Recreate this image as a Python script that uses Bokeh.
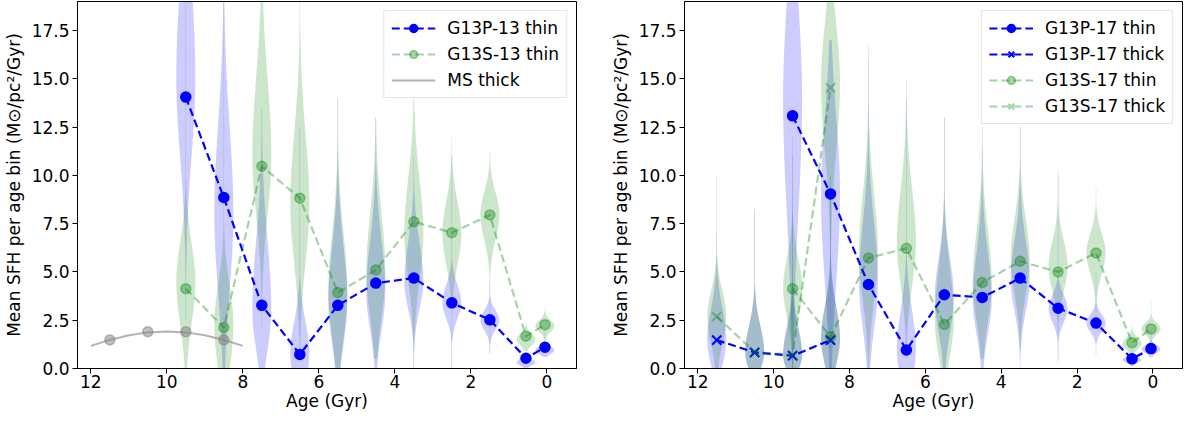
import numpy as np
from bokeh.plotting import figure
from bokeh.layouts import row
from bokeh.models import Range1d, FixedTicker
from bokeh.embed import file_html
from bokeh.resources import INLINE

# ---------------- data ----------------
AGES_ALL = [11.5, 10.5, 9.5, 8.5, 7.5, 6.5, 5.5, 4.5, 3.5, 2.5, 1.5, 0.55, 0.05]
AGES_THIN = AGES_ALL[2:]
AGES_THICK = AGES_ALL[:4]

X_TICKS = [0, 2, 4, 6, 8, 10, 12]
Y_TICKS = [0, 2.5, 5, 7.5, 10, 12.5, 15, 17.5]
Y_TICK_LABELS = ["0.0", "2.5", "5.0", "7.5", "10.0", "12.5", "15.0", "17.5"]

# left panel: mean SFH points
P13_THIN = [14.05, 8.85, 3.27, 0.73, 3.27, 4.42, 4.68, 3.40, 2.52, 0.53, 1.10]
S13_THIN = [4.13, 2.12, 10.47, 8.82, 3.93, 5.10, 7.60, 7.03, 7.95, 1.67, 2.27]
MS_AGES = [11.5, 10.5, 9.5, 8.5]
MS_VALS = [1.48, 1.90, 1.90, 1.48]
MS_CURVE_AGES = [12, 11.5, 11, 10.5, 10, 9.5, 9, 8.5, 8]
MS_CURVE_VALS = [1.17, 1.48, 1.72, 1.87, 1.92, 1.87, 1.72, 1.48, 1.17]

# right panel: mean SFH points
P17_THIN = [13.08, 9.04, 4.35, 0.96, 3.82, 3.68, 4.68, 3.12, 2.35, 0.50, 1.03]
P17_THICK = [1.47, 0.83, 0.66, 1.47]
S17_THIN = [4.13, 1.64, 5.72, 6.22, 2.28, 4.45, 5.55, 5.00, 5.98, 1.33, 2.05]
S17_THICK = [2.69, 0.85, 0.70, 14.53]

# violin outlines: mode, spread below, spread above, lowest, highest value
V_P13_THIN_MODE = [15.0, 8.0, 3.0, 0.8, 3.5, 4.0, 4.5, 3.4, 2.5, 0.30, 0.95]
V_P13_THIN_SLO = [4.0, 4.0, 2.0, 1.6, 2.2, 2.0, 1.4, 0.8, 0.5, 0.15, 0.2]
V_P13_THIN_SHI = [5.0, 4.6, 3.6, 1.6, 2.8, 2.6, 2.0, 0.9, 0.5, 0.2, 0.2]
V_P13_THIN_LO = [2.5, 0.0, 0.0, 0.0, 0.0, 0.0, 0.0, 0.0, 0.8, 0.0, 0.6]
V_P13_THIN_HI = [19.5, 19.0, 13.5, 12.5, 14.0, 13.0, 11.0, 11.0, 4.5, 0.9, 2.0]

V_S13_THIN_MODE = [4.5, 2.3, 11.0, 8.5, 4.0, 5.0, 7.0, 7.0, 8.0, 1.5, 2.2]
V_S13_THIN_SLO = [2.2, 2.4, 3.0, 3.0, 2.4, 2.3, 2.4, 1.6, 1.3, 0.3, 0.3]
V_S13_THIN_SHI = [2.0, 2.0, 4.0, 3.6, 3.0, 3.0, 2.8, 1.6, 1.1, 0.3, 0.3]
V_S13_THIN_LO = [0.0, 0.0, 2.0, 0.5, 0.0, 0.5, 0.0, 0.0, 0.7, 0.9, 1.5]
V_S13_THIN_HI = [19.0, 19.0, 19.0, 19.0, 14.0, 13.0, 14.5, 12.0, 11.2, 2.4, 3.2]

V_P17_THIN_MODE = [14.0, 9.0, 4.5, 1.0, 3.7, 3.6, 4.6, 3.1, 2.35, 0.45, 1.0]
V_P17_THIN_SLO = [6.0, 4.5, 2.4, 1.6, 1.8, 1.8, 1.6, 0.7, 0.45, 0.15, 0.2]
V_P17_THIN_SHI = [5.0, 4.0, 3.0, 2.0, 2.0, 2.4, 2.0, 0.7, 0.45, 0.15, 0.2]
V_P17_THIN_LO = [0.0, 0.0, 0.0, 0.0, 0.0, 0.0, 0.0, 0.5, 0.7, 0.1, 0.6]
V_P17_THIN_HI = [19.5, 17.0, 16.0, 14.0, 13.0, 12.5, 12.5, 10.0, 5.0, 1.0, 2.0]

V_P17_THICK_MODE = [1.5, 0.8, 0.7, 1.5]
V_P17_THICK_SLO = [1.3, 0.9, 0.8, 1.3]
V_P17_THICK_SHI = [1.6, 1.4, 1.5, 1.7]
V_P17_THICK_LO = [0.0, 0.0, 0.0, 0.0]
V_P17_THICK_HI = [7.0, 8.3, 8.0, 10.0]

V_S17_THIN_MODE = [4.2, 1.6, 6.0, 6.5, 2.5, 4.5, 5.7, 5.3, 6.0, 1.3, 2.05]
V_S17_THIN_SLO = [1.5, 1.4, 2.4, 2.2, 1.8, 2.0, 1.8, 1.3, 1.1, 0.3, 0.3]
V_S17_THIN_SHI = [1.5, 1.6, 3.0, 2.8, 2.6, 2.6, 2.0, 1.3, 1.0, 0.3, 0.3]
V_S17_THIN_LO = [0.0, 0.0, 0.0, 0.5, 0.0, 0.5, 1.0, 0.3, 2.0, 0.8, 1.4]
V_S17_THIN_HI = [11.0, 10.0, 16.7, 15.0, 13.0, 11.5, 12.5, 10.3, 9.4, 2.2, 3.5]

V_S17_THICK_MODE = [2.7, 0.9, 0.7, 14.8]
V_S17_THICK_SLO = [1.4, 0.9, 0.8, 3.5]
V_S17_THICK_SHI = [1.3, 1.3, 1.3, 3.0]
V_S17_THICK_LO = [0.0, 0.0, 0.0, 1.0]
V_S17_THICK_HI = [10.0, 8.0, 12.0, 19.0]

BLUE = "#0000ff"
GREEN = "#008000"
GRAY = "#808080"
FONT = "DejaVu Sans"
FS = "17px"


def violins(ages, modes, slo, shi, lo, hi, halfwidth=0.25, floor=0.007):
    xs, ys = [], []
    for a, m, sl, sh, l, h in zip(ages, modes, slo, shi, lo, hi):
        yy = np.unique(np.concatenate([np.linspace(l, h, 160), [m]]))
        s = np.where(yy < m, sl, sh)
        w = np.maximum(halfwidth * np.exp(-0.5 * ((yy - m) / s) ** 2), floor)
        xs.append(list(a - w) + list((a + w)[::-1]))
        ys.append(list(yy) + list(yy[::-1]))
    return xs, ys


def make_fig(width, bl, br):
    p = figure(width=width, height=413, x_range=Range1d(12.35, -0.78),
               y_range=Range1d(0, 19), output_backend="svg",
               toolbar_location=None, min_border_left=bl, min_border_right=br,
               min_border_top=1, min_border_bottom=30)
    p.xgrid.visible = False
    p.ygrid.visible = False
    p.outline_line_color = "black"
    p.outline_line_alpha = 1.0
    p.outline_line_width = 1
    p.background_fill_color = "white"
    p.border_fill_color = "white"
    p.xaxis.ticker = FixedTicker(ticks=X_TICKS)
    p.yaxis.ticker = FixedTicker(ticks=Y_TICKS)
    p.yaxis.major_label_overrides = {t: l for t, l in zip(Y_TICKS, Y_TICK_LABELS)}
    for ax in (p.xaxis, p.yaxis):
        ax.axis_line_color = "black"
        ax.major_tick_line_color = "black"
        ax.major_tick_out = 5
        ax.major_tick_in = 0
        ax.minor_tick_line_color = None
        ax.major_label_text_font = FONT
        ax.major_label_text_font_size = FS
        ax.major_label_text_color = "black"
        ax.axis_label_text_font = FONT
        ax.axis_label_text_font_size = FS
        ax.axis_label_text_font_style = "normal"
        ax.axis_label_text_color = "black"
    p.xaxis.major_label_standoff = 1
    p.xaxis.axis_label_standoff = 0
    p.yaxis.major_label_standoff = 3
    p.yaxis.axis_label_standoff = 5
    p.xaxis.axis_label = "Age (Gyr)"
    p.yaxis.axis_label = "Mean SFH per age bin (M⊙/pc²/Gyr)"
    return p


def add_violins(p, ages, modes, slo, shi, lo, hi, color):
    xs, ys = violins(ages, modes, slo, shi, lo, hi)
    p.patches(xs, ys, fill_color=color, fill_alpha=0.2, line_color=None)


def add_series(p, ages, vals, color, alpha, marker, label):
    p.line(ages, vals, line_color=color, line_alpha=alpha, line_width=2.2,
           line_dash="8 4", legend_label=label)
    if marker == "circle":
        p.scatter(ages, vals, marker="circle", size=10, fill_color=color,
                  fill_alpha=alpha, line_color=color, line_alpha=alpha,
                  line_width=1.5, legend_label=label)
    else:
        p.scatter(ages, vals, marker="x", size=13, line_color=color,
                  line_alpha=alpha, line_width=2, legend_label=label)


def style_legend(p):
    lg = p.legend[0]
    lg.location = "top_right"
    lg.margin = 9
    lg.padding = 7
    lg.spacing = 6
    lg.label_text_font = FONT
    lg.label_text_font_size = FS
    lg.label_text_color = "black"
    lg.label_standoff = 12
    lg.glyph_width = 44
    lg.glyph_height = 20
    lg.label_height = 20
    lg.border_line_color = "#cccccc"
    lg.border_line_width = 1
    lg.background_fill_alpha = 0.8


# ---------------- left panel ----------------
p1 = make_fig(588, 70, 12)
add_violins(p1, AGES_THIN, V_P13_THIN_MODE, V_P13_THIN_SLO, V_P13_THIN_SHI,
            V_P13_THIN_LO, V_P13_THIN_HI, BLUE)
add_violins(p1, AGES_THIN, V_S13_THIN_MODE, V_S13_THIN_SLO, V_S13_THIN_SHI,
            V_S13_THIN_LO, V_S13_THIN_HI, GREEN)
add_series(p1, AGES_THIN, P13_THIN, BLUE, 1.0, "circle", "G13P-13 thin")
add_series(p1, AGES_THIN, S13_THIN, GREEN, 0.35, "circle", "G13S-13 thin")
p1.line(MS_CURVE_AGES, MS_CURVE_VALS, line_color=GRAY, line_alpha=0.6,
        line_width=2, legend_label="MS thick")
p1.scatter(MS_AGES, MS_VALS, marker="circle", size=10, fill_color=GRAY,
           fill_alpha=0.5, line_color=GRAY, line_alpha=0.5, line_width=1.5)
style_legend(p1)

# ---------------- right panel ----------------
p2 = make_fig(596, 96, 2)
add_violins(p2, AGES_THIN, V_P17_THIN_MODE, V_P17_THIN_SLO, V_P17_THIN_SHI,
            V_P17_THIN_LO, V_P17_THIN_HI, BLUE)
add_violins(p2, AGES_THICK, V_P17_THICK_MODE, V_P17_THICK_SLO, V_P17_THICK_SHI,
            V_P17_THICK_LO, V_P17_THICK_HI, BLUE)
add_violins(p2, AGES_THIN, V_S17_THIN_MODE, V_S17_THIN_SLO, V_S17_THIN_SHI,
            V_S17_THIN_LO, V_S17_THIN_HI, GREEN)
add_violins(p2, AGES_THICK, V_S17_THICK_MODE, V_S17_THICK_SLO, V_S17_THICK_SHI,
            V_S17_THICK_LO, V_S17_THICK_HI, GREEN)
add_series(p2, AGES_THIN, P17_THIN, BLUE, 1.0, "circle", "G13P-17 thin")
add_series(p2, AGES_THICK, P17_THICK, BLUE, 1.0, "x", "G13P-17 thick")
add_series(p2, AGES_THIN, S17_THIN, GREEN, 0.35, "circle", "G13S-17 thin")
add_series(p2, AGES_THICK, S17_THICK, GREEN, 0.35, "x", "G13S-17 thick")
style_legend(p2)

layout = row(p1, p2)
open("out.html", "w").write(file_html(layout, INLINE))
